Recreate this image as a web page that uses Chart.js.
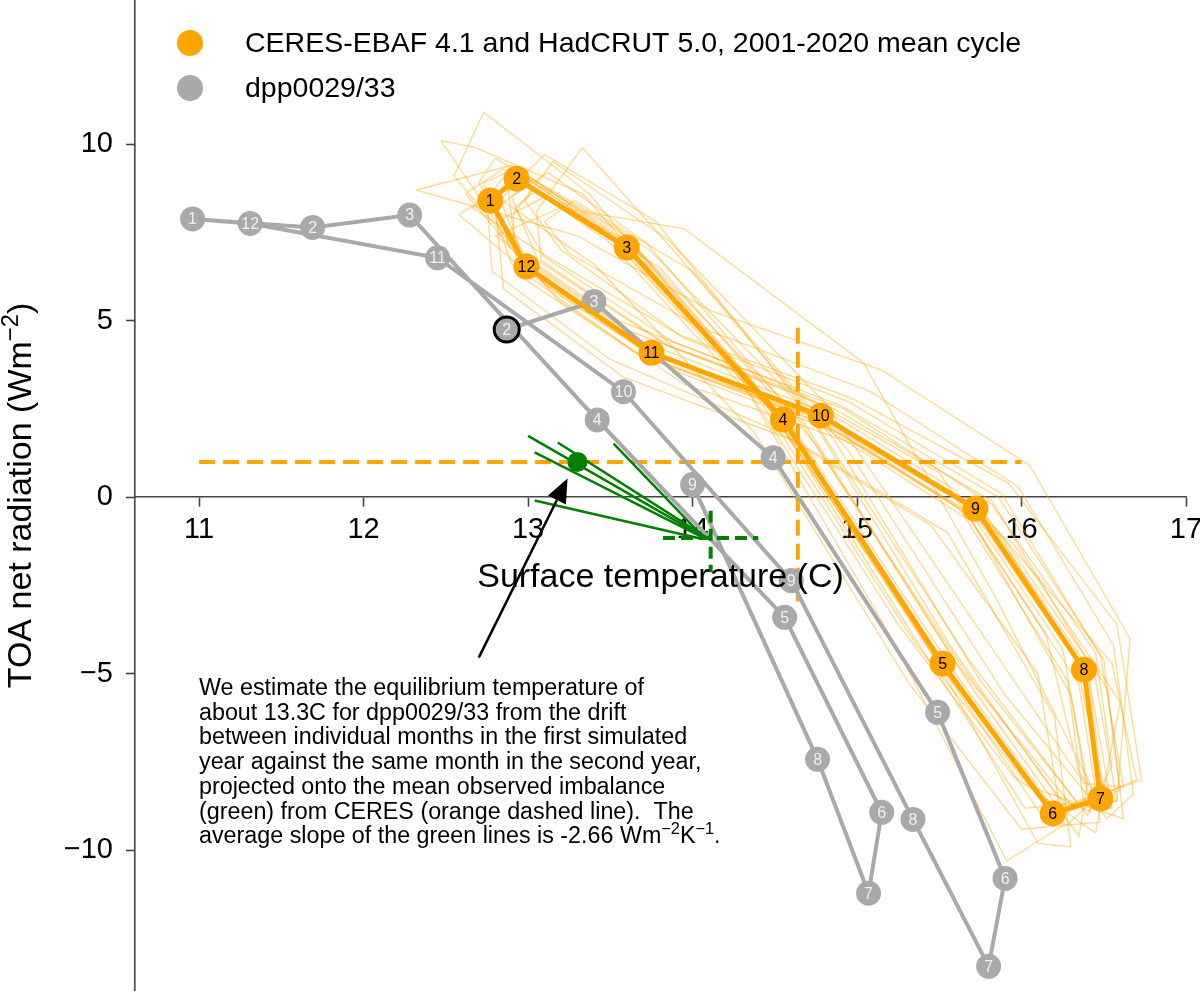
<!DOCTYPE html>
<html>
<head>
<meta charset="utf-8">
<title>TOA net radiation vs surface temperature</title>
<script src="https://cdn.jsdelivr.net/npm/chart.js@4.4.1/dist/chart.umd.min.js"></script>
<style>
  html, body { margin: 0; padding: 0; background: #fff; }
  #chart { display: block; }
</style>
</head>
<body>
<canvas id="chart" width="1200" height="994"></canvas>
<script>
// axis ticks
const xTicks = [11, 12, 13, 14, 15, 16, 17];
const yTicks = [-10, -5, 0, 5, 10];

// CERES-EBAF 4.1 and HadCRUT 5.0, 2001-2020 mean cycle (Jan..Dec)
const obsMonths = [1, 2, 3, 4, 5, 6, 7, 8, 9, 10, 11, 12];
const obsTemp = [12.77, 12.93, 13.60, 14.55, 15.52, 16.19, 16.48, 16.38, 15.72, 14.78, 13.75, 12.99];
const obsToa = [8.40, 9.02, 7.07, 2.20, -4.71, -8.95, -8.53, -4.88, -0.32, 2.31, 4.09, 6.53];

// single years 2001-2020 (thin lines), Jan..Dec
const yearLabels = [2001, 2002, 2003, 2004, 2005, 2006, 2007, 2008, 2009, 2010,
                    2011, 2012, 2013, 2014, 2015, 2016, 2017, 2018, 2019, 2020];
const yearTemp = [
  [12.62, 12.85, 13.52, 14.48, 15.45, 16.12, 16.55, 16.41, 15.80, 14.85, 13.82, 13.05],
  [12.91, 13.02, 13.71, 14.62, 15.60, 16.27, 16.50, 16.33, 15.66, 14.70, 13.70, 12.92],
  [12.70, 12.80, 13.45, 14.40, 15.35, 16.05, 16.62, 16.52, 15.85, 14.90, 13.88, 13.10],
  [12.85, 13.10, 13.80, 14.75, 15.70, 16.35, 16.40, 16.25, 15.60, 14.65, 13.62, 12.88],
  [12.55, 12.73, 13.37, 14.30, 15.25, 15.95, 16.45, 16.60, 15.95, 15.05, 13.95, 13.18],
  [12.95, 13.20, 13.95, 15.04, 15.85, 16.45, 16.35, 16.15, 15.50, 14.55, 13.55, 12.80],
  [12.47, 12.68, 13.33, 14.45, 15.55, 16.20, 16.70, 16.55, 15.75, 14.80, 13.76, 12.98],
  [12.80, 12.98, 13.62, 14.58, 15.48, 16.10, 16.30, 16.20, 15.55, 14.62, 13.58, 12.85],
  [12.32, 12.90, 13.55, 14.50, 15.42, 16.02, 16.58, 16.66, 16.05, 15.15, 14.10, 13.30],
  [13.05, 13.33, 13.90, 14.85, 15.75, 16.40, 16.55, 16.45, 15.82, 14.92, 13.85, 13.08],
  [12.75, 12.88, 13.50, 14.35, 15.20, 15.91, 16.25, 16.10, 15.45, 14.50, 13.50, 12.78],
  [12.66, 12.95, 13.65, 14.68, 15.62, 16.30, 16.73, 16.58, 15.92, 14.97, 13.92, 13.12],
  [12.88, 13.10, 13.78, 14.70, 15.58, 16.22, 16.42, 16.30, 15.68, 14.72, 13.68, 12.94],
  [12.58, 12.78, 13.40, 14.38, 15.32, 16.00, 16.48, 16.35, 15.70, 14.76, 13.72, 12.96],
  [12.98, 13.15, 13.85, 14.80, 15.78, 16.38, 16.62, 16.48, 15.88, 14.95, 13.95, 13.20],
  [13.10, 13.28, 14.00, 14.95, 15.90, 16.52, 16.68, 16.56, 15.98, 15.08, 14.05, 13.25],
  [12.73, 12.92, 13.58, 14.52, 15.50, 16.15, 16.38, 16.28, 15.62, 14.68, 13.65, 12.90],
  [12.84, 13.03, 13.68, 14.60, 15.53, 16.18, 16.50, 16.40, 15.74, 14.78, 13.78, 13.00],
  [12.92, 13.08, 13.74, 14.72, 15.68, 16.33, 16.60, 16.50, 15.86, 14.90, 13.88, 13.10],
  [12.90, 13.12, 13.72, 14.66, 15.64, 16.28, 16.58, 16.44, 15.82, 14.86, 13.84, 13.06]
];
const yearToa = [
  [8.6, 9.3, 7.3, 2.5, -4.4, -8.6, -8.8, -5.1, -0.6, 2.0, 3.8, 6.2],
  [8.0, 8.7, 6.8, 1.9, -5.0, -9.3, -8.3, -4.6, -0.1, 2.6, 4.4, 6.9],
  [8.9, 9.6, 7.6, 2.8, -4.1, -8.2, -9.1, -5.4, -0.9, 1.8, 3.6, 6.0],
  [7.9, 8.5, 6.5, 1.5, -5.4, -9.6, -8.1, -4.3, 0.2, 2.9, 4.7, 7.1],
  [9.1, 10.9, 8.6, 3.3, -3.6, -7.9, -9.5, -5.8, -1.3, 1.4, 3.2, 5.6],
  [7.7, 8.2, 7.6, 3.8, -2.9, -8.4, -7.8, -3.9, 0.7, 3.2, 5.0, 7.4],
  [10.1, 9.9, 8.6, 2.6, -4.9, -9.0, -8.0, -4.7, -0.4, 2.2, 4.1, 6.6],
  [8.3, 9.1, 7.0, 2.0, -4.6, -9.8, -9.9, -6.2, -1.0, 1.6, 3.4, 5.9],
  [8.7, 9.4, 7.4, 2.3, -4.5, -8.8, -8.6, -4.0, 0.9, 3.6, 5.3, 7.4],
  [8.1, 9.9, 6.9, 1.7, -5.2, -9.0, -7.6, -4.4, -0.2, 2.5, 4.3, 6.7],
  [8.5, 9.2, 7.2, 2.9, -3.9, -10.3, -9.3, -5.0, -0.8, 1.9, 3.9, 6.4],
  [8.2, 8.9, 7.1, 2.1, -4.8, -8.7, -8.0, -3.6, 0.4, 2.8, 4.6, 6.8],
  [8.7, 9.7, 7.8, 2.4, -4.3, -8.5, -8.9, -5.6, -0.5, 2.3, 4.0, 6.3],
  [8.0, 8.6, 6.6, 1.8, -5.3, -9.4, -9.2, -5.3, -0.7, 2.1, 4.2, 6.5],
  [8.4, 9.5, 7.3, 2.7, -4.0, -8.1, -8.2, -4.5, 0.1, 2.7, 4.5, 7.0],
  [7.8, 8.4, 6.4, 1.3, -5.6, -9.1, -8.4, -4.2, 0.3, 3.0, 4.8, 6.9],
  [8.9, 9.3, 7.5, 2.2, -4.7, -9.2, -8.7, -5.2, -0.3, 2.4, 4.1, 6.6],
  [8.3, 9.0, 6.9, 2.0, -4.9, -8.9, -8.5, -4.8, -0.3, 2.3, 4.1, 6.5],
  [8.2, 8.8, 7.0, 2.3, -4.6, -8.6, -8.3, -4.6, 0.0, 2.6, 4.4, 6.8],
  [8.5, 9.2, 7.2, 2.1, -4.8, -8.8, -8.6, -4.9, -0.1, 2.5, 4.3, 6.7]
];

// dpp0029/33: starts in Feb of the first year, ends in Sep of the second
const modelMonths = [2, 3, 4, 5, 6, 7, 8, 9, 10, 11, 12, 1, 2, 3, 4, 5, 6, 7, 8, 9];
const modelTemp = [12.87, 13.40, 14.49, 15.49, 15.90, 15.80, 15.34, 14.60, 13.58, 12.45,
                   11.31, 10.96, 11.69, 12.28, 13.42, 14.56, 15.15, 15.07, 14.76, 14.00];
const modelToa = [4.75, 5.54, 1.12, -6.09, -10.79, -13.28, -9.12, -2.36, 2.99, 6.78,
                  7.75, 7.88, 7.64, 7.99, 2.19, -3.40, -8.92, -11.21, -7.42, 0.36];

// mean observed imbalance and mean temperature (orange dashed)
const imbalanceTemp = [11, 16];
const imbalanceToa = [1.0, 1.0];
const meanTemp = [14.64, 14.64];
const meanTempToa = [4.8, -2.95];

// drift lines (green)
const driftStartTemp = [13.00, 13.04, 13.18, 13.52, 13.04];
const driftStartToa = [1.74, 1.27, 1.55, 1.52, -0.09];
const driftEndTemp = [14.07, 14.07, 14.08, 14.05, 14.06];
const driftEndToa = [-1.13, -1.16, -1.12, -1.05, -1.18];
const crossTemp = [13.82, 14.40];
const crossToa = [-1.15, -1.15];
const crossVTemp = [14.11, 14.11];
const crossVToa = [-0.38, -2.12];
const eqTemp = [13.30];
const eqToa = [1.0];

const noteLines = [
  [['We estimate the equilibrium temperature of']],
  [['about 13.3C for dpp0029/33 from the drift']],
  [['between individual months in the first simulated']],
  [['year against the same month in the second year,']],
  [['projected onto the mean observed imbalance']],
  [['(green) from CERES (orange dashed line).  The']],
  [['average slope of the green lines is -2.66 Wm'], ['\u22122', 1], ['K'], ['\u22121', 1], ['.']]
];

const FONT = "'Liberation Sans', 'DejaVu Sans', sans-serif";
const ORANGE = '#ffa500';
const GRAY = '#a9a9a9';
const GREEN = '#008000';

const pts = (xs, ys) => xs.map((x, i) => ({ x: x, y: ys[i] }));

const datasets = [];
yearTemp.forEach((t, k) => {
  const p = pts(t, yearToa[k]);
  datasets.push({
    label: String(yearLabels[k]),
    data: p.concat([p[0]]),
    showLine: true,
    borderColor: 'rgba(255,165,0,0.42)',
    borderWidth: 1.4,
    pointRadius: 0,
    order: 60
  });
});
datasets.push({
  label: 'imbalance',
  data: pts(imbalanceTemp, imbalanceToa),
  showLine: true, borderColor: ORANGE, borderWidth: 4, borderDash: [16, 8],
  pointRadius: 0, order: 50
});
datasets.push({
  label: 'mean temperature',
  data: pts(meanTemp, meanTempToa),
  showLine: true, borderColor: ORANGE, borderWidth: 4, borderDash: [16, 8],
  pointRadius: 0, order: 50
});
datasets.push({
  label: 'dpp0029/33',
  data: pts(modelTemp, modelToa),
  showLine: true,
  borderColor: GRAY,
  borderWidth: 4,
  pointRadius: 12.5,
  pointBackgroundColor: GRAY,
  pointBorderColor: ctx => ctx.dataIndex === 0 ? '#000' : GRAY,
  pointBorderWidth: ctx => ctx.dataIndex === 0 ? 3 : 0,
  monthLabels: modelMonths,
  labelColor: '#f0f0f0',
  order: 40
});
datasets.push({
  label: 'CERES-EBAF 4.1 and HadCRUT 5.0, 2001-2020 mean cycle',
  data: pts(obsTemp, obsToa).concat([{ x: obsTemp[0], y: obsToa[0] }]),
  showLine: true,
  borderColor: ORANGE,
  borderWidth: 5,
  pointRadius: ctx => ctx.dataIndex === obsTemp.length ? 0 : 13,
  pointBackgroundColor: ORANGE,
  pointBorderWidth: 0,
  monthLabels: obsMonths,
  labelColor: '#000',
  order: 30
});
driftStartTemp.forEach((t, k) => {
  datasets.push({
    label: 'drift',
    data: [{ x: t, y: driftStartToa[k] }, { x: driftEndTemp[k], y: driftEndToa[k] }],
    showLine: true, borderColor: GREEN, borderWidth: 2.5, pointRadius: 0, order: 20
  });
});
datasets.push({
  label: 'cross h',
  data: pts(crossTemp, crossToa),
  showLine: true, borderColor: GREEN, borderWidth: 4, borderDash: [12, 6], pointRadius: 0, order: 20
});
datasets.push({
  label: 'cross v',
  data: pts(crossVTemp, crossVToa),
  showLine: true, borderColor: GREEN, borderWidth: 4, borderDash: [12, 6], pointRadius: 0, order: 20
});
datasets.push({
  label: 'equilibrium',
  data: pts(eqTemp, eqToa),
  showLine: false, pointRadius: 10, pointBackgroundColor: GREEN, pointBorderWidth: 0, order: 10
});

// numbers inside the markers
const markerLabels = {
  id: 'markerLabels',
  afterDatasetsDraw(chart) {
    const ctx = chart.ctx;
    ctx.save();
    ctx.textAlign = 'center';
    ctx.textBaseline = 'middle';
    ctx.font = '16px ' + FONT;
    chart.data.datasets.forEach((ds, i) => {
      if (!ds.monthLabels) return;
      const meta = chart.getDatasetMeta(i);
      ctx.fillStyle = ds.labelColor;
      ds.monthLabels.forEach((m, j) => {
        const el = meta.data[j];
        ctx.fillText(String(m), el.x, el.y + 1);
      });
    });
    ctx.restore();
  }
};

function richText(ctx, parts, x, y, size, center) {
  let w = 0;
  parts.forEach(p => {
    ctx.font = (p[1] ? size * 0.7 : size) + 'px ' + FONT;
    w += ctx.measureText(p[0]).width;
  });
  let cx = center ? x - w / 2 : x;
  parts.forEach(p => {
    ctx.font = (p[1] ? size * 0.7 : size) + 'px ' + FONT;
    ctx.fillText(p[0], cx, p[1] ? y - size * 0.38 : y);
    cx += ctx.measureText(p[0]).width;
  });
}

// axis titles, legend, note and arrow
const overlay = {
  id: 'overlay',
  afterDraw(chart) {
    const ctx = chart.ctx;
    const xs = chart.scales.x, ys = chart.scales.y;
    const area = chart.chartArea;
    ctx.save();
    ctx.fillStyle = '#000';
    ctx.textAlign = 'left';
    ctx.textBaseline = 'alphabetic';

    // x title
    richText(ctx, [['Surface temperature (C)']], (area.left + area.right) / 2, 587, 34, true);

    // y title
    ctx.save();
    ctx.translate(31, (area.top + area.bottom) / 2);
    ctx.rotate(-Math.PI / 2);
    richText(ctx, [['TOA net radiation (Wm'], ['\u22122', 1], [')']], 0, 0, 34, true);
    ctx.restore();

    // legend
    const legendItems = [[ORANGE, 'CERES-EBAF 4.1 and HadCRUT 5.0, 2001-2020 mean cycle'], [GRAY, 'dpp0029/33']];
    legendItems.forEach((it, k) => {
      const cy = 43 + k * 45;
      ctx.fillStyle = it[0];
      ctx.beginPath();
      ctx.arc(190, cy, 13, 0, Math.PI * 2);
      ctx.fill();
      ctx.fillStyle = '#000';
      ctx.font = '28.5px ' + FONT;
      ctx.textBaseline = 'middle';
      ctx.fillText(it[1], 245, cy + 1);
    });
    ctx.textBaseline = 'alphabetic';

    // note
    ctx.fillStyle = '#000';
    noteLines.forEach((parts, k) => {
      richText(ctx, parts, 199, 695 + k * 24.7, 23.3, false);
    });

    // arrow from the note to the equilibrium point
    const x0 = xs.getPixelForValue(12.70), y0 = ys.getPixelForValue(-4.54);
    const x1 = xs.getPixelForValue(13.24), y1 = ys.getPixelForValue(0.53);
    const ang = Math.atan2(y1 - y0, x1 - x0);
    const hl = 24, hw = 10;
    const bx = x1 - hl * Math.cos(ang), by = y1 - hl * Math.sin(ang);
    ctx.strokeStyle = '#000';
    ctx.lineWidth = 2.5;
    ctx.beginPath();
    ctx.moveTo(x0, y0);
    ctx.lineTo(bx, by);
    ctx.stroke();
    ctx.beginPath();
    ctx.moveTo(x1, y1);
    ctx.lineTo(bx + hw * Math.sin(ang), by - hw * Math.cos(ang));
    ctx.lineTo(bx - hw * Math.sin(ang), by + hw * Math.cos(ang));
    ctx.closePath();
    ctx.fill();
    ctx.restore();
  }
};

const axisColor = '#444';
const noPad = axis => { axis.paddingLeft = 0; axis.paddingRight = 0; axis.paddingTop = 0; axis.paddingBottom = 0; };

new Chart(document.getElementById('chart'), {
  type: 'scatter',
  data: { datasets: datasets },
  options: {
    responsive: false,
    animation: false,
    events: [],
    layout: { autoPadding: false, padding: { top: 1, right: 14, bottom: 4, left: 0 } },
    plugins: {
      legend: { display: false },
      tooltip: { enabled: false }
    },
    scales: {
      x: {
        type: 'linear',
        min: 10.61,
        max: 17,
        position: { y: 0 },
        afterBuildTicks: axis => { axis.ticks = xTicks.map(v => ({ value: v })); },
        afterFit: noPad,
        ticks: { color: '#000', font: { size: 29, family: FONT }, padding: 6, maxRotation: 0 },
        grid: { drawOnChartArea: false, drawTicks: true, tickLength: 9, tickColor: axisColor, tickWidth: 1.6 },
        border: { display: true, color: axisColor, width: 1.6 }
      },
      y: {
        type: 'linear',
        min: -13.95,
        max: 14.05,
        position: 'left',
        afterBuildTicks: axis => { axis.ticks = yTicks.map(v => ({ value: v })); },
        afterFit: axis => { noPad(axis); axis.width = 135; },
        ticks: {
          color: '#000',
          font: { size: 29, family: FONT },
          padding: 13,
          callback: v => String(v).replace('-', '\u2212')
        },
        grid: { drawOnChartArea: false, drawTicks: true, tickLength: 9, tickColor: axisColor, tickWidth: 1.6 },
        border: { display: true, color: axisColor, width: 1.6 }
      }
    }
  },
  plugins: [markerLabels, overlay]
});
</script>
</body>
</html>
